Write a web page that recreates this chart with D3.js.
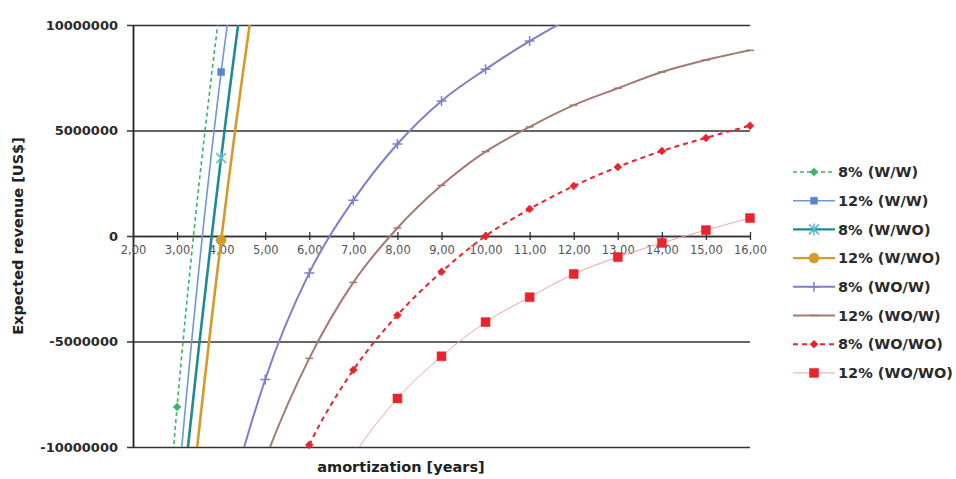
<!DOCTYPE html>
<html><head><meta charset="utf-8">
<script src="https://cdn.jsdelivr.net/npm/d3@7"></script>
<style>body{margin:0;background:#fff}svg{display:block}</style>
</head><body><svg id="c" width="956" height="479"></svg>
<script>
// ---- data ----
const years = [2,3,4,5,6,7,8,9,10,11,12,13,14,15,16];
const xTickLabels = ["2,00","3,00","4,00","5,00","6,00","7,00","8,00","9,00","10,00","11,00","12,00","13,00","14,00","15,00","16,00"];
const yTicks = [10000000, 5000000, 0, -5000000, -10000000];
const yTickLabels = ["10000000","5000000","0","-5000000","-10000000"];
const seriesNames = ["8% (W/W)","12% (W/W)","8% (W/WO)","12% (W/WO)","8% (WO/W)","12% (WO/W)","8% (WO/WO)","12% (WO/WO)"];
const v8WW   = [-36000000,-8100000,11300000,25000000,36000000,null,null,null,null,null,null,null,null,null,null];
const v12WW  = [-40000000,-12500000,7770000,21000000,32000000,null,null,null,null,null,null,null,null,null,null];
const v8WWO  = [-38000000,-15000000,3700000,19000000,31000000,null,null,null,null,null,null,null,null,null,null];
const v12WWO = [-41000000,-19000000,-200000,15000000,27000000,null,null,null,null,null,null,null,null,null,null];
const v8WOW  = [-45000000,-26000000,-14300000,-6800000,-1750000,1700000,4360000,6400000,7900000,9240000,10400000,11400000,12300000,null,null];
const v12WOW = [-38000000,-28000000,-17000000,-10600000,-5800000,-2200000,380000,2400000,4000000,5170000,6200000,7000000,7770000,8340000,8800000];
const v8WOWO = [null,null,-22000000,-15000000,-9900000,-6350000,-3750000,-1700000,0,1280000,2370000,3270000,4030000,4650000,5230000];
const v12WOWO= [null,null,null,-20000000,-14000000,-10400000,-7700000,-5700000,-4080000,-2900000,-1800000,-1000000,-330000,280000,850000];

// ---- styles ----
const styles = [
  {vals:v8WW,   color:"#3db36b", w:1.6, dash:"4,3", marker:"diamond", mcolor:"#3db36b", ms:4},
  {vals:v12WW,  color:"#7097d8", w:1.6, dash:null,  marker:"square",  mcolor:"#5a84cc", ms:3.5},
  {vals:v8WWO,  color:"#1f8a93", w:2.6, dash:null,  marker:"star",    mcolor:"#58b8c8", ms:5},
  {vals:v12WWO, color:"#d49a2a", w:2.6, dash:null,  marker:"circle",  mcolor:"#d49a2a", ms:5},
  {vals:v8WOW,  color:"#7c80c6", w:2.0, dash:null,  marker:"plus",    mcolor:"#7c80c6", ms:5},
  {vals:v12WOW, color:"#a57a72", w:2.0, dash:null,  marker:"dash",    mcolor:"#a57a72", ms:4},
  {vals:v8WOWO, color:"#e8242e", w:2.0, dash:"5,4", marker:"diamond", mcolor:"#e8242e", ms:4},
  {vals:v12WOWO,color:"#f3a3a3", w:1.0, dash:null,  marker:"square",  mcolor:"#e8242e", ms:4.5}
];

const svg = d3.select("#c");
const L = 133, R = 750, T = 25, B = 447;
const x = d3.scaleLinear().domain([2,16]).range([L,R]);
const y = d3.scaleLinear().domain([-10000000,10000000]).range([B,T]);

svg.append("defs").append("clipPath").attr("id","clip")
  .append("rect").attr("x",L).attr("y",T).attr("width",R-L).attr("height",B-T);

// gridlines
const grid = svg.append("g").attr("transform",`translate(${L},0)`)
  .call(d3.axisLeft(y).tickValues(yTicks).tickSize(-(R-L)).tickFormat(""));
grid.select(".domain").remove();
grid.selectAll("line").attr("stroke","#333").attr("stroke-width",1.5);

// y axis
const ya = svg.append("g").attr("transform",`translate(${L},0)`)
  .call(d3.axisLeft(y).tickValues(yTicks).tickSize(6).tickSizeOuter(0).tickPadding(9)
    .tickFormat((d,i)=>yTickLabels[i]));
ya.select(".domain").attr("stroke","#222").attr("stroke-width",1.8);
ya.selectAll("line").attr("stroke","#333").attr("stroke-width",1.5);
ya.selectAll("text").attr("font-family","DejaVu Sans").attr("font-weight","bold")
  .attr("font-size",13).attr("fill","#2a2a2a");

// x axis at zero
const xa = svg.append("g").attr("transform",`translate(0,${y(0)})`)
  .call(d3.axisBottom(x).tickValues(years).tickSize(4).tickSizeOuter(0).tickPadding(6)
    .tickFormat((d,i)=>xTickLabels[i]));
xa.select(".domain").attr("stroke","#333").attr("stroke-width",1.5);
xa.selectAll("line").attr("stroke","#333").attr("stroke-width",1.3).attr("y1",-4);
xa.selectAll("text").attr("font-family","DejaVu Sans").attr("font-size",11.5).attr("fill","#555");

// marker path generator
function markerPath(type, s){
  switch(type){
    case "diamond": return `M0,${-s}L${s},0L0,${s}L${-s},0Z`;
    case "square": return `M${-s},${-s}H${s}V${s}H${-s}Z`;
    case "circle": return d3.symbol(d3.symbolCircle, Math.PI*s*s)();
    case "star": return `M${-s},${-s}L${s},${s}M${-s},${s}L${s},${-s}M0,${-s*1.2}V${s*1.2}`;
    case "plus": return `M${-s},0H${s}M0,${-s}V${s}`;
    case "dash": return `M${-s},0H${s}`;
  }
}
const filled = t => t==="diamond"||t==="square"||t==="circle";

const plot = svg.append("g").attr("clip-path","url(#clip)");
const line = d3.line().x(d=>x(d[0])).y(d=>y(d[1])).curve(d3.curveCatmullRom.alpha(0));

styles.forEach(st=>{
  const pts = years.map((yr,i)=>[yr, st.vals[i]]).filter(d=>d[1]!==null);
  plot.append("path").datum(pts).attr("d",line).attr("fill","none")
    .attr("stroke",st.color).attr("stroke-width",st.w)
    .attr("stroke-dasharray",st.dash);
  const vis = pts.filter(d=>d[1]>=-10000000 && d[1]<=10000000);
  svg.append("g").selectAll("path").data(vis).join("path")
    .attr("transform",d=>`translate(${x(d[0])},${y(d[1])})`)
    .attr("d",markerPath(st.marker, st.ms))
    .attr("fill",filled(st.marker)?st.mcolor:"none")
    .attr("stroke",st.mcolor).attr("stroke-width",filled(st.marker)?0.5:1.5);
});

// axis titles
svg.append("text").attr("x",401).attr("y",472).attr("text-anchor","middle")
  .attr("font-family","DejaVu Sans").attr("font-weight","bold").attr("font-size",14.5)
  .attr("fill","#222").text("amortization [years]");
svg.append("text").attr("transform","translate(23,236) rotate(-90)").attr("text-anchor","middle")
  .attr("font-family","DejaVu Sans").attr("font-weight","bold").attr("font-size",14.5)
  .attr("fill","#222").text("Expected revenue [US$]");

// legend
const lg = svg.append("g");
styles.forEach((st,i)=>{
  const cy = 172 + i*28.7;
  const g = lg.append("g").attr("transform",`translate(0,${cy})`);
  g.append("line").attr("x1",793).attr("x2",835).attr("y1",0).attr("y2",0)
    .attr("stroke",st.color).attr("stroke-width",Math.min(st.w,2.2)).attr("stroke-dasharray",st.dash);
  g.append("path").attr("transform","translate(814,0)").attr("d",markerPath(st.marker, st.ms))
    .attr("fill",filled(st.marker)?st.mcolor:"none")
    .attr("stroke",st.mcolor).attr("stroke-width",filled(st.marker)?0.5:1.5);
  g.append("text").attr("x",838).attr("y",0).attr("dy","0.36em")
    .attr("font-family","DejaVu Sans").attr("font-weight","bold").attr("font-size",14.5)
    .attr("fill","#2a2a2a").text(seriesNames[i]);
});
</script></body></html>
